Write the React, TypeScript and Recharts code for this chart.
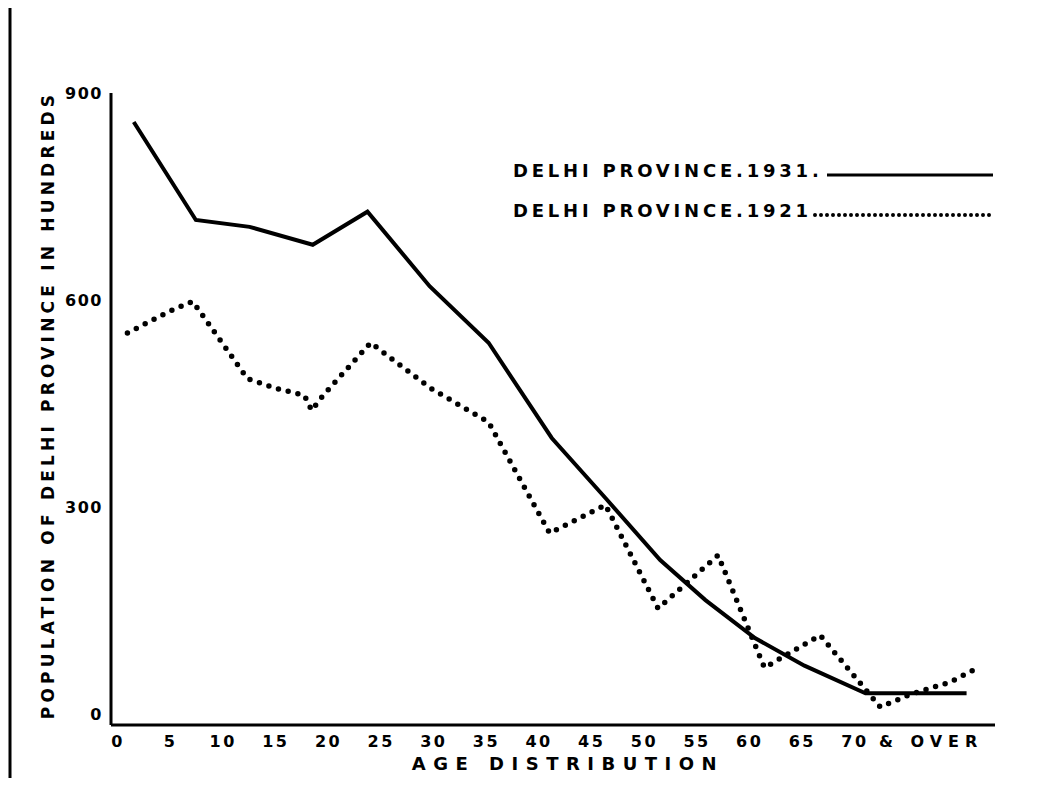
import React from "react";
import { LineChart, Line, XAxis, YAxis } from "recharts";

// 1931 census (solid line): age position and population in hundreds
const ages1931 = [1.5, 7.4, 12.5, 18.5, 23.7, 29.6, 35.2, 41.2, 46.3, 51.5, 55.8, 60.5, 65.2, 71.0, 80.6];
const pop1931 = [858, 716, 706, 680, 728, 620, 538, 400, 313, 223, 165, 110, 70, 30, 30];

// 1921 census (dotted line)
const ages1921 = [0.9, 4.8, 7.1, 12.3, 15.0, 17.7, 18.4, 19.5, 24.0, 29.7, 35.2, 41.0, 46.3, 51.3, 57.0, 61.4, 66.7, 72.4, 75.2, 79.0, 81.7];
const pop1921 = [552, 583, 598, 486, 472, 462, 440, 462, 538, 472, 423, 262, 303, 153, 230, 67, 114, 10, 28, 46, 67];

const xTicks = [0, 5, 10, 15, 20, 25, 30, 35, 40, 45, 50, 55, 60, 65, 70];
const yTicks = [0, 300, 600, 900];

const series1931Name = "DELHI PROVINCE.1931.";
const series1921Name = "DELHI PROVINCE.1921";
const yTitle = "POPULATION OF DELHI PROVINCE IN HUNDREDS";
const xTitle = "AGE DISTRIBUTION";
const lastTickSuffix = "& OVER";

const data1931 = ages1931.map((a, i) => ({ age: a, pop: pop1931[i] }));
const data1921 = ages1921.map((a, i) => ({ age: a, pop: pop1921[i] }));

const FONT = "'DejaVu Sans', Verdana, sans-serif";

const XTick = (props: any) => {
  const { x, y, payload } = props;
  const v = payload.value;
  return (
    <g>
      <text
        x={x}
        y={y}
        dy={14}
        textAnchor="middle"
        fontFamily={FONT}
        fontWeight="bold"
        fontSize={16}
        letterSpacing={2.5}
        fill="#000"
      >
        {String(v)}
      </text>
      {v === 70 ? (
        <text
          x={x + 24}
          y={y}
          dy={14}
          textAnchor="start"
          fontFamily={FONT}
          fontWeight="bold"
          fontSize={16}
          letterSpacing={6}
          fill="#000"
        >
          {lastTickSuffix}
        </text>
      ) : null}
    </g>
  );
};

const LegendBox = () => {
  const rowStyle: React.CSSProperties = {
    display: "flex",
    alignItems: "center",
    height: 24,
    whiteSpace: "nowrap",
  };
  return (
    <div
      style={{
        position: "absolute",
        top: 151,
        left: 505,
        fontFamily: FONT,
        fontWeight: "bold",
        fontSize: 18,
        letterSpacing: 3.8,
        color: "#000",
        lineHeight: "24px",
      }}
    >
      <div style={rowStyle}>
        <span>{series1931Name}</span>
        <svg width={166} height={16} style={{ marginLeft: 4 }}>
          <line x1={0} y1={12} x2={166} y2={12} stroke="#000" strokeWidth={3} />
        </svg>
      </div>
      <div style={{ ...rowStyle, marginTop: 16 }}>
        <span>{series1921Name}</span>
        <svg width={182} height={16} style={{ marginLeft: 0 }}>
          <line
            x1={3}
            y1={12}
            x2={180}
            y2={12}
            stroke="#000"
            strokeWidth={4}
            strokeDasharray="0 6"
            strokeLinecap="round"
          />
        </svg>
      </div>
    </div>
  );
};

export default function App() {
  return (
    <div style={{ position: "relative", width: 1021, height: 770 }}>
      <svg
        width={1029}
        height={785}
        style={{ position: "absolute", left: -8, top: -8, zIndex: 2, pointerEvents: "none" }}
      >
        <line x1={10} y1={0} x2={10} y2={785} stroke="#000" strokeWidth={3} />
        <line x1={10} y1={6} x2={1029} y2={4} stroke="#000" strokeWidth={2.5} />
      </svg>
      <LineChart
        width={1021}
        height={770}
        margin={{ top: 85, right: 34, bottom: 23, left: 43 }}
      >
        <XAxis
          dataKey="age"
          type="number"
          domain={[-0.66, 83.3]}
          ticks={xTicks}
          allowDataOverflow
          axisLine={{ stroke: "#000", strokeWidth: 3 }}
          tickLine={false}
          tick={<XTick />}
          height={30}
          label={{
            content: (p: any) => {
              const vb = p.viewBox || {};
              return (
                <text
                  x={vb.x + 457}
                  y={757}
                  textAnchor="middle"
                  dominantBaseline="middle"
                  fontFamily={FONT}
                  fontWeight="bold"
                  fontSize={18}
                  letterSpacing={7.5}
                  fill="#000"
                >
                  {xTitle}
                </text>
              );
            },
          }}
        />
        <YAxis
          type="number"
          domain={[-16, 900]}
          ticks={yTicks}
          allowDataOverflow
          width={60}
          axisLine={{ stroke: "#000", strokeWidth: 3 }}
          tickLine={false}
          tick={{
            fill: "#000",
            fontFamily: FONT,
            fontWeight: "bold",
            fontSize: 16,
            letterSpacing: 1.5,
          }}
          label={{
            content: (p: any) => {
              const vb = p.viewBox || {};
              const cx = vb.x - 2;
              const cy = vb.y + vb.height / 2 - 4;
              return (
                <text
                  x={cx}
                  y={cy}
                  transform={`rotate(-90 ${cx} ${cy})`}
                  textAnchor="middle"
                  dominantBaseline="middle"
                  fontFamily={FONT}
                  fontWeight="bold"
                  fontSize={17}
                  letterSpacing={4.2}
                  fill="#000"
                >
                  {yTitle}
                </text>
              );
            },
          }}
        />
        <Line
          data={data1931}
          dataKey="pop"
          name={series1931Name}
          type="linear"
          stroke="#000"
          strokeWidth={4}
          dot={false}
          isAnimationActive={false}
        />
        <Line
          data={data1921}
          dataKey="pop"
          name={series1921Name}
          type="linear"
          stroke="#000"
          strokeWidth={5.5}
          strokeDasharray="0 10"
          strokeLinecap="round"
          dot={false}
          isAnimationActive={false}
        />
      </LineChart>
      <LegendBox />
    </div>
  );
}
